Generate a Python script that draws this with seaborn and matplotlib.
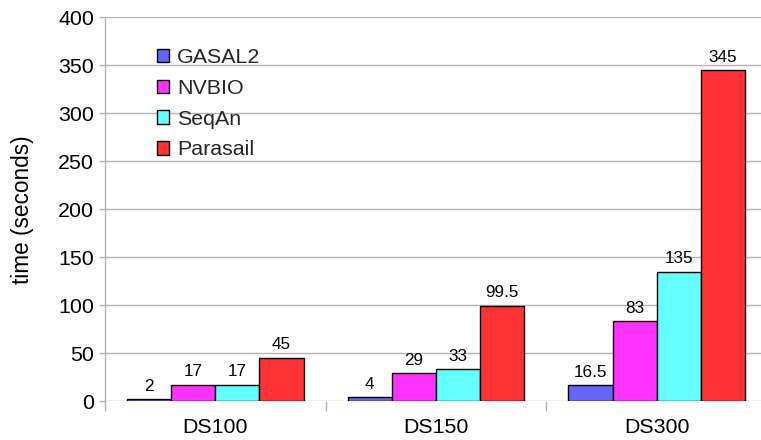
import pandas as pd
import numpy as np
import matplotlib
matplotlib.use("Agg")
import matplotlib.pyplot as plt
from matplotlib.ticker import FixedLocator, MultipleLocator
import seaborn as sns

datasets = ["DS100", "DS150", "DS300"]
tools = ["GASAL2", "NVBIO", "SeqAn", "Parasail"]
gasal2 = [2, 4, 16.5]
nvbio = [17, 29, 83]
seqan = [17, 33, 135]
parasail = [45, 99.5, 345]
colors = ["#6666ff", "#ff33ff", "#66ffff", "#ff3333"]

rows = []
for tool, vals in zip(tools, [gasal2, nvbio, seqan, parasail]):
    for ds, v in zip(datasets, vals):
        rows.append({"dataset": ds, "tool": tool, "time": v})
df = pd.DataFrame(rows)

sns.set_theme(style="white")
plt.rcParams["font.family"] = ["Liberation Sans", "DejaVu Sans"]

grid_gray = "#b3b3b3"

fig = plt.figure(figsize=(7.61, 4.4), dpi=100)
ax = fig.add_axes([105 / 761, 39 / 440, 662 / 761, 383.5 / 440])

sns.barplot(data=df, x="dataset", y="time", hue="tool", order=datasets,
            hue_order=tools, palette=colors, edgecolor="black", linewidth=1,
            width=0.8, saturation=1, ax=ax)

for c in ax.containers:
    ax.bar_label(c, fmt="%g", padding=4, fontsize=12.3, color="#000000")

ax.set_xlim(-0.5, 2.5)
ax.set_ylim(0, 400)
ax.yaxis.set_major_locator(MultipleLocator(50))
ax.yaxis.grid(True, color=grid_gray, linewidth=1)
ax.set_axisbelow(True)

for s in ["top", "right", "bottom"]:
    ax.spines[s].set_visible(False)
ax.spines["left"].set_color(grid_gray)
ax.spines["left"].set_linewidth(1)

ax.tick_params(axis="y", which="major", left=True, length=4, width=1,
               color=grid_gray, labelsize=15.4, pad=4, labelcolor="black")
ax.tick_params(axis="x", which="major", bottom=False, length=0,
               labelsize=15.4, pad=12, labelcolor="black")
ax.xaxis.set_minor_locator(FixedLocator([-0.5, 0.5, 1.5, 2.5]))
ax.tick_params(axis="x", which="minor", bottom=True, length=7, width=1,
               color=grid_gray)

ax.set_xlabel("")
ax.set_ylabel("time (seconds)", fontsize=16.3, labelpad=17, color="black")

leg = ax.legend(loc="upper left", bbox_to_anchor=(0.078, 0.92), frameon=False,
                fontsize=15.4, handlelength=0.6, handleheight=0.6,
                handletextpad=0.35, labelspacing=0.55, borderpad=0,
                borderaxespad=0)
for h in leg.legend_handles:
    h.set_edgecolor("black")
    h.set_linewidth(1)

fig.savefig("out.png", dpi=100)
